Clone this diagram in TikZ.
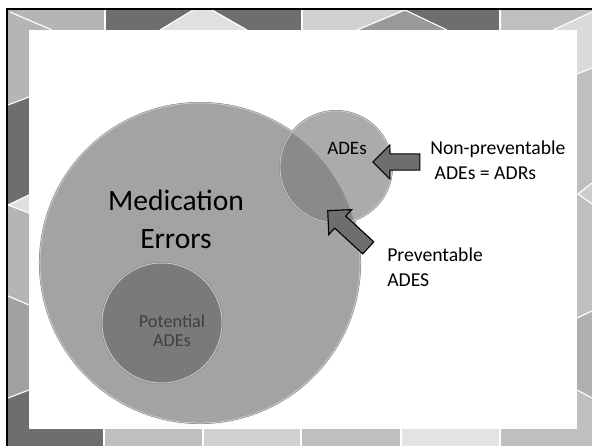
\documentclass[tikz,border=0pt]{standalone}
\usepackage{fontspec}
\setmainfont{Carlito}
\usetikzlibrary{shapes.arrows}
\begin{document}
\begin{tikzpicture}[x=0.025cm,y=-0.025cm,
seam/.style={draw=white,line width=0.8pt},
disc/.style={circle,inner sep=0pt,outer sep=0pt,draw=black!22,line width=0.7pt,preaction={draw=black!50,line width=1.4pt}},
blockarrow/.style={single arrow,draw=black,line width=0.8pt,fill=black!57,inner xsep=0pt,inner ysep=0.19cm,single arrow head extend=0.22cm},
lbl/.style={font=\fontsize{14}{17.5}\selectfont,text=black,align=left,inner sep=0pt}
]
\useasboundingbox (0,0) rectangle (592,446);
\fill[white] (0,0) rectangle (592,446);
\fill[black!29] (8,10) rectangle (592,446);
\fill[black!57] (105,10) rectangle (302,30);
\fill[black!12] (160,30) -- (193,10) -- (212,10) -- (247,30) -- cycle;
\fill[black!18] (302,10) rectangle (500,30);
\fill[black!40] (357,30) -- (405,10) -- (447,30) -- cycle;
\fill[black!57] (405,10) -- (500,10) -- (500,30) -- (447,30) -- cycle;
\fill[black!25] (500,10) rectangle (592,30);
\fill[black!14] (553,30) -- (592,12) -- (592,68) -- (577,74) -- (577,30) -- cycle;
\fill[black!57] (8,105) -- (29,97) -- (29,195) -- (8,205) -- cycle;
\fill[black!12] (8,205) -- (29,195) -- (29,213) -- cycle;
\fill[black!37] (8,296) -- (29,305) -- (29,390) -- (8,398) -- cycle;
\fill[black!57] (8,398) -- (29,390) -- (29,429) -- (104,429) -- (104,446) -- (8,446) -- cycle;
\fill[black!25] (104,429) rectangle (203,446);
\fill[black!18] (203,429) rectangle (301,446);
\fill[black!25] (301,429) rectangle (401,446);
\fill[black!11] (401,429) rectangle (500,446);
\fill[black!25] (500,429) rectangle (592,446);
\fill[black!25] (577,74) -- (592,68) -- (592,429) -- (577,429) -- cycle;
\fill[black!20] (592,183) -- (578,194) -- (592,204) -- cycle;
\fill[black!31] (577,318) -- (592,311) -- (592,398) -- (577,390) -- cycle;
\fill[white] (29,30) rectangle (577,429);
\draw[seam] (10,12) -- (52,30);
\draw[seam] (105,10) -- (105,30);
\draw[seam] (160,30) -- (193,10);
\draw[seam] (212,10) -- (247,30);
\draw[seam] (302,10) -- (302,30);
\draw[seam] (357,30) -- (405,10) -- (447,30);
\draw[seam] (500,10) -- (500,30);
\draw[seam] (553,30) -- (592,12);
\draw[seam] (577,74) -- (592,68);
\draw[seam] (8,105) -- (29,97);
\draw[seam] (29,195) -- (8,205) -- (29,213);
\draw[seam] (8,296) -- (29,305);
\draw[seam] (8,398) -- (29,390);
\draw[seam] (104,429) -- (104,446);
\draw[seam] (203,429) -- (203,446);
\draw[seam] (301,429) -- (301,446);
\draw[seam] (401,429) -- (401,446);
\draw[seam] (500,429) -- (500,446);
\draw[seam] (592,183) -- (578,194) -- (592,204);
\draw[seam] (577,318) -- (592,311);
\draw[seam] (577,390) -- (592,398);
\draw[black,line width=1.6pt] (7,446) -- (7,9) -- (592,9);
\node[disc,fill=black!36,minimum size=8cm] (errors) at (200,263) {};
\node[disc,fill=black!33,minimum size=2.8cm] (ades) at (336,167) {};
\begin{scope}
\clip (ades.center) circle (1.385cm);
\fill[black!46] (errors.center) circle (3.985cm);
\end{scope}
\node[disc,fill=black!52,minimum size=3cm] (potential) at (162,323) {};
\node[font=\fontsize{21}{27}\selectfont,align=center] (errtext) at (176,219) {Medication\\Errors};
\node[font=\fontsize{13.5}{16}\selectfont] (adetext) at (347,148) {ADEs};
\node[font=\fontsize{13}{13.5}\selectfont,text=black!75,align=center] (pottext) at (172,331) {Potential\\ADEs};
\node[lbl,anchor=west] (nonprev) at (430,160) {Non-preventable\\\ ADEs = ADRs};
\node[lbl,anchor=west] (prev) at (387,267) {Preventable\\ADES};
\node[blockarrow,minimum height=1.175cm,rotate=180] (arrowa) at (400.5,162) {};
\node[blockarrow,minimum height=1.375cm,rotate=137.4] (arrowb) at (351,232) {};
\end{tikzpicture}
\end{document}
